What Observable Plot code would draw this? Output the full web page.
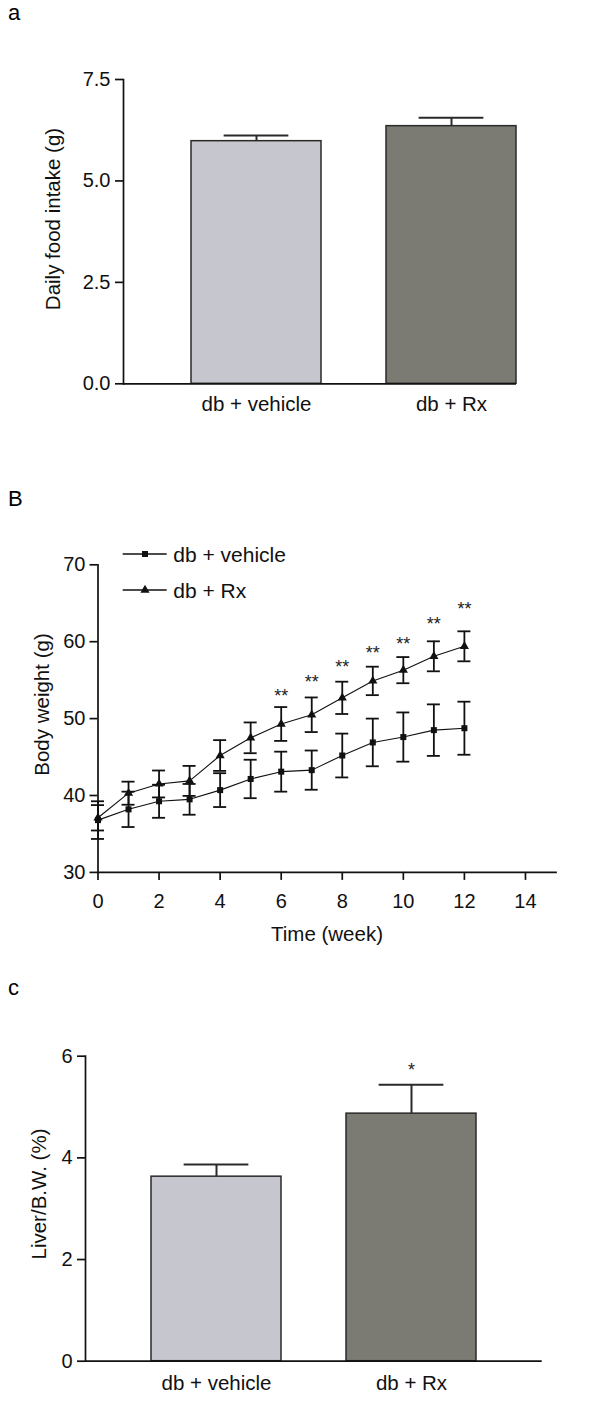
<!DOCTYPE html>
<html><head><meta charset="utf-8">
<script src="https://cdn.jsdelivr.net/npm/d3@7"></script>
<script src="https://cdn.jsdelivr.net/npm/@observablehq/plot@0.6"></script>
<style>
body{margin:0;background:#fff;}
#page{position:relative;width:600px;height:1404px;overflow:hidden;font-family:"Liberation Sans",Arial,sans-serif;}
#page > svg{position:absolute;left:0;}
</style></head><body><div id="page"></div>
<script>
// ---------- data ----------
const groups = ["db + vehicle", "db + Rx"];
const foodMean = [5.98, 6.35];
const foodSem = [0.14, 0.21];
const foodTicks = [0, 2.5, 5, 7.5];

const weeks = [0,1,2,3,4,5,6,7,8,9,10,11,12];
const vehicleMean = [36.8, 38.2, 39.25, 39.5, 40.7, 42.15, 43.1, 43.3, 45.2, 46.9, 47.6, 48.5, 48.75];
const vehicleSem  = [2.45, 2.3, 2.15, 2.0, 2.2, 2.5, 2.6, 2.55, 2.85, 3.1, 3.2, 3.35, 3.45];
const rxMean = [37.1, 40.3, 41.5, 41.9, 45.2, 47.5, 49.3, 50.5, 52.7, 54.9, 56.3, 58.1, 59.4];
const rxSem  = [1.65, 1.5, 1.75, 1.95, 2.0, 2.0, 2.2, 2.25, 2.1, 1.85, 1.7, 1.95, 1.95];
const weekTicks = [0,2,4,6,8,10,12,14];
const weightTicks = [30,40,50,60,70];
const starWeeks = [6,7,8,9,10,11,12];
const starLevel = [53.4, 55.2, 57.2, 59.0, 60.2, 62.8, 64.7];

const liverMean = [3.63, 4.87];
const liverSem = [0.24, 0.57];
const liverTicks = [0, 2, 4, 6];
const liverSig = ["", "*"];

const barColors = ["#c6c6ce", "#7b7b74"];
const FONT = '"Liberation Sans", Arial, sans-serif';
const INK = "#111";

const page = document.getElementById("page");
const baseStyle = {fontFamily: FONT, fontSize: "20px", color: INK, background: "transparent", overflow: "visible"};

// ---------- panel a ----------
{
  const W = 600, ml = 123, mr = 84, pIn = 1/3, pOut = 0.17;
  const step = (W - ml - mr) / (2 - pIn + 2 * pOut);
  const bw = step * (1 - pIn);
  const food = groups.map((g, i) => ({group: g, mean: foodMean[i], top: foodMean[i] + foodSem[i]}));
  const svg = Plot.plot({
    width: W, height: 440, marginTop: 79, marginBottom: 56.7, marginLeft: ml, marginRight: mr,
    style: baseStyle,
    x: {type: "band", domain: groups, paddingInner: pIn, paddingOuter: pOut, align: 1, axis: null},
    y: {domain: [0, 7.5], axis: null},
    color: {domain: groups, range: barColors},
    marks: [
      Plot.barY(food, {x: "group", y: "mean", fill: "group", stroke: "#2a2a2a", strokeWidth: 1.5}),
      Plot.ruleX(food, {x: "group", y1: "mean", y2: "top", stroke: "#2a2a2a", strokeWidth: 2}),
      Plot.tickY(food, {x: "group", y: "top", inset: bw / 4, stroke: "#2a2a2a", strokeWidth: 2}),
      Plot.axisY({ticks: foodTicks, tickFormat: d3.format(".1f"), tickSize: 8, tickPadding: 5, label: null, strokeWidth: 1.7}),
      Plot.axisX({tickSize: 0, tickPadding: 13, label: null, fontSize: 20.5}),
      Plot.frame({anchor: "left", strokeWidth: 1.7}),
      Plot.ruleY([0], {strokeWidth: 1.7})
    ]
  });
  svg.style.top = "0px";
  page.appendChild(svg);
}

// ---------- panel B ----------
{
  const rows = [];
  weeks.forEach((w, i) => rows.push({week: w, series: "db + vehicle", mean: vehicleMean[i], sem: vehicleSem[i]}));
  weeks.forEach((w, i) => rows.push({week: w, series: "db + Rx", mean: rxMean[i], sem: rxSem[i]}));
  const stars = starWeeks.map((w, i) => ({week: w, y: starLevel[i]}));
  const svg = Plot.plot({
    width: 600, height: 480, marginTop: 94.3, marginBottom: 78.1, marginLeft: 97.5, marginRight: 44.5,
    style: baseStyle,
    x: {domain: [0, 15], axis: null},
    y: {domain: [30, 70], axis: null},
    symbol: {domain: groups, range: ["square", "triangle"]},
    marks: [
      Plot.ruleX(rows, {x: "week", y1: d => d.mean - d.sem, y2: d => d.mean + d.sem, stroke: INK, strokeWidth: 1.8}),
      Plot.ruleY(rows, {y: d => d.mean + d.sem, x1: "week", x2: "week", insetLeft: -6.5, insetRight: -6.5, stroke: INK, strokeWidth: 1.8}),
      Plot.ruleY(rows, {y: d => d.mean - d.sem, x1: "week", x2: "week", insetLeft: -6.5, insetRight: -6.5, stroke: INK, strokeWidth: 1.8}),
      Plot.line(rows, {x: "week", y: "mean", z: "series", stroke: INK, strokeWidth: 1.1}),
      Plot.dot(rows, {x: "week", y: "mean", symbol: "series", fill: INK, stroke: "none", r: 3.4}),
      Plot.text(stars, {x: "week", y: "y", text: () => "**", fontSize: 18, dy: 4, fill: "#222"}),
      Plot.axisX({ticks: weekTicks, tickSize: 8, tickPadding: 13, label: null, strokeWidth: 1.7}),
      Plot.axisY({ticks: weightTicks, tickSize: 8, tickPadding: 4.5, label: null, strokeWidth: 1.7}),
      Plot.frame({anchor: "left", strokeWidth: 1.7}),
      Plot.frame({anchor: "bottom", strokeWidth: 1.7})
    ]
  });
  svg.style.top = "470px";
  page.appendChild(svg);
}

// ---------- panel c ----------
{
  const W = 600, ml = 85, mr = 58.3, pIn = 1/3, pOut = 1/3;
  const step = (W - ml - mr) / (2 - pIn + 2 * pOut);
  const bw = step * (1 - pIn);
  const liver = groups.map((g, i) => ({group: g, mean: liverMean[i], top: liverMean[i] + liverSem[i], sig: liverSig[i]}));
  const svg = Plot.plot({
    width: W, height: 414, marginTop: 65.7, marginBottom: 43.3, marginLeft: ml, marginRight: mr,
    style: baseStyle,
    x: {type: "band", domain: groups, paddingInner: pIn, paddingOuter: pOut, axis: null},
    y: {domain: [0, 6], axis: null},
    color: {domain: groups, range: barColors},
    marks: [
      Plot.barY(liver, {x: "group", y: "mean", fill: "group", stroke: "#2a2a2a", strokeWidth: 1.5}),
      Plot.ruleX(liver, {x: "group", y1: "mean", y2: "top", stroke: "#2a2a2a", strokeWidth: 2}),
      Plot.tickY(liver, {x: "group", y: "top", inset: bw / 4, stroke: "#2a2a2a", strokeWidth: 2}),
      Plot.text(liver, {x: "group", y: "top", text: "sig", fontSize: 18, dy: -14, fill: "#222"}),
      Plot.axisY({ticks: liverTicks, tickFormat: d3.format("d"), tickSize: 8, tickPadding: 5, label: null, strokeWidth: 1.7}),
      Plot.axisX({tickSize: 0, tickPadding: 14, label: null, fontSize: 20.5}),
      Plot.frame({anchor: "left", strokeWidth: 1.7}),
      Plot.ruleY([0], {strokeWidth: 1.7})
    ]
  });
  svg.style.top = "990px";
  page.appendChild(svg);
}

// ---------- static texts: panel letters, axis titles, legend ----------
{
  const ov = d3.select(page).append("svg")
    .attr("width", 600).attr("height", 1404)
    .style("position", "absolute").style("left", "0px").style("top", "0px")
    .style("pointer-events", "none");
  const letterFont = '"Liberation Sans", Arial, sans-serif';
  [["a", 20], ["B", 506], ["c", 995]].forEach(([t, y]) =>
    ov.append("text").attr("x", 8).attr("y", y).attr("font-family", letterFont)
      .attr("font-size", 22).attr("fill", "#000").text(t));
  const title = (t, x, y, rot) => {
    const g = ov.append("text").attr("font-family", FONT).attr("font-size", 20.5)
      .attr("fill", INK).attr("text-anchor", "middle").text(t);
    if (rot) g.attr("transform", `translate(${x},${y}) rotate(-90)`);
    else g.attr("x", x).attr("y", y);
  };
  title("Daily food intake (g)", 60, 219, true);
  title("Body weight (g)", 48.5, 704.5, true);
  title("Time (week)", 327, 941, false);
  title("Liver/B.W. (%)", 46, 1194, true);

  // legend for panel B
  const legend = [{label: groups[0], y: 554, sym: "square"}, {label: groups[1], y: 590, sym: "triangle"}];
  legend.forEach(d => {
    ov.append("line").attr("x1", 122.7).attr("x2", 166.7).attr("y1", d.y).attr("y2", d.y)
      .attr("stroke", INK).attr("stroke-width", 1.6);
    const sym = d.sym === "square" ? d3.symbolSquare : d3.symbolTriangle;
    ov.append("path").attr("d", d3.symbol(sym, Math.PI * 3.4 * 3.4)())
      .attr("transform", `translate(145,${d.y})`).attr("fill", INK);
    ov.append("text").attr("x", 173.3).attr("y", d.y + 7.7).attr("font-family", FONT)
      .attr("font-size", 21).attr("fill", INK).text(d.label);
  });
}
</script>
</body></html>
